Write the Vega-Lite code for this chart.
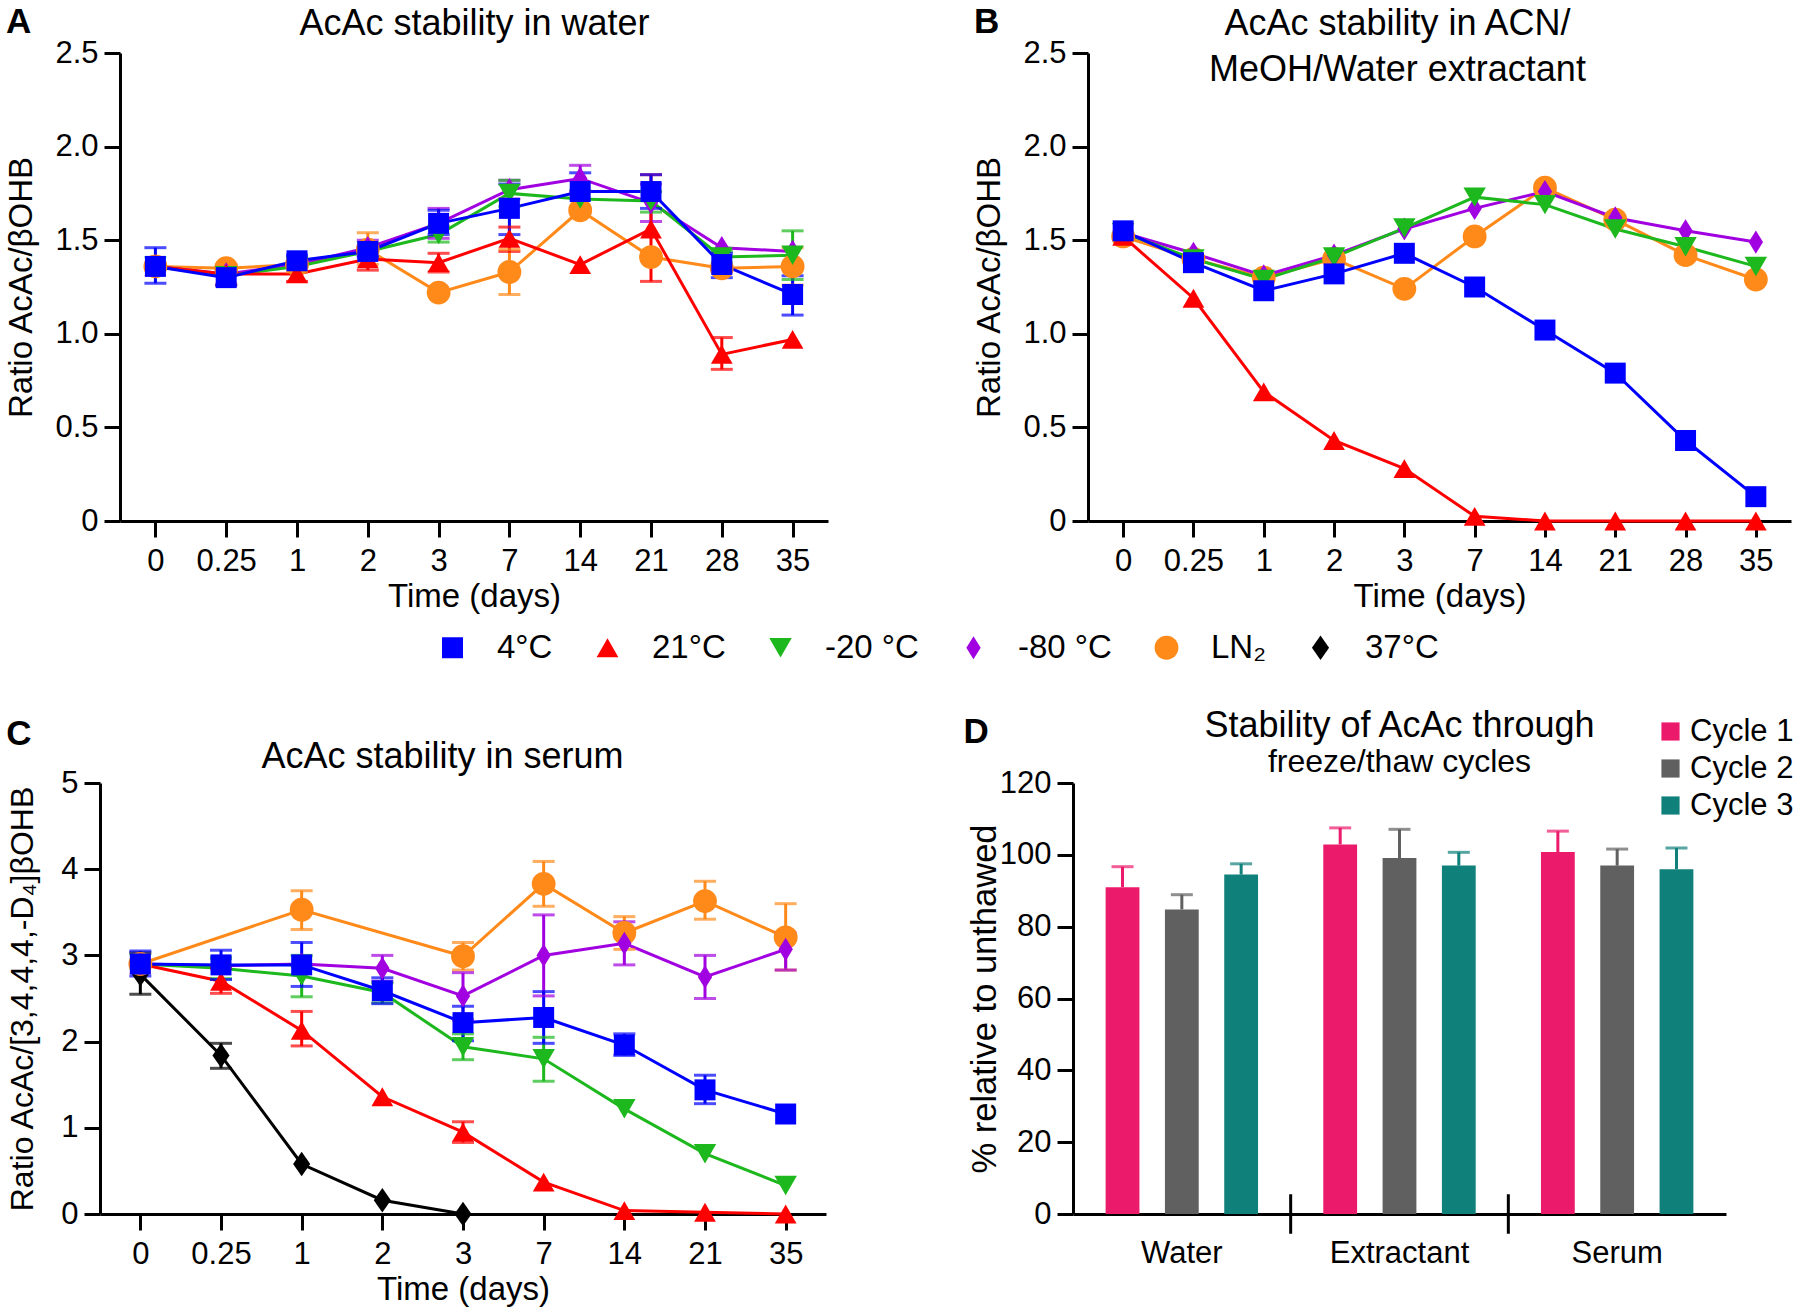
{
"$schema": "https://vega.github.io/schema/vega-lite/v6.json",
"padding": 5,
"config": {
  "font": "Liberation Sans",
  "view": {"stroke": null},
  "axis": {"domainColor": "black", "domainWidth": 3, "tickColor": "black", "tickWidth": 3, "tickSize": 16, "labelFontSize": 31, "labelColor": "black", "titleFontSize": 33, "titleFontWeight": "normal", "titleColor": "black", "grid": false, "labelPadding": 6, "titlePadding": 8, "labelAngle": 0},
  "axisX": {"labelPadding": 9},
  "title": {"fontSize": 36, "fontWeight": "normal", "color": "black", "frame": "group", "anchor": "middle"},
  "legend": {"labelColor": "black", "labelFont": "Liberation Sans"}
},
"datasets": {
  "A": [
    {"t":"0","s":"LN₂","v":1.36},{"t":"0.25","s":"LN₂","v":1.35},{"t":"1","s":"LN₂","v":1.37,"lo":1.33,"hi":1.41},{"t":"2","s":"LN₂","v":1.45,"lo":1.37,"hi":1.54},{"t":"3","s":"LN₂","v":1.22},{"t":"7","s":"LN₂","v":1.33,"lo":1.21,"hi":1.45},{"t":"14","s":"LN₂","v":1.66},{"t":"21","s":"LN₂","v":1.41},{"t":"28","s":"LN₂","v":1.35},{"t":"35","s":"LN₂","v":1.36,"lo":1.26,"hi":1.46},
    {"t":"0","s":"-80 °C","v":1.36},{"t":"0.25","s":"-80 °C","v":1.32},{"t":"1","s":"-80 °C","v":1.37},{"t":"2","s":"-80 °C","v":1.46,"lo":1.42,"hi":1.5},{"t":"3","s":"-80 °C","v":1.59,"lo":1.51,"hi":1.67},{"t":"7","s":"-80 °C","v":1.77,"lo":1.72,"hi":1.82},{"t":"14","s":"-80 °C","v":1.83,"lo":1.76,"hi":1.9},{"t":"21","s":"-80 °C","v":1.7,"lo":1.6,"hi":1.8},{"t":"28","s":"-80 °C","v":1.46},{"t":"35","s":"-80 °C","v":1.44},
    {"t":"0","s":"-20 °C","v":1.36},{"t":"0.25","s":"-20 °C","v":1.31},{"t":"1","s":"-20 °C","v":1.36},{"t":"2","s":"-20 °C","v":1.44},{"t":"3","s":"-20 °C","v":1.53,"lo":1.49,"hi":1.57},{"t":"7","s":"-20 °C","v":1.75,"lo":1.68,"hi":1.82},{"t":"14","s":"-20 °C","v":1.72},{"t":"21","s":"-20 °C","v":1.71,"lo":1.65,"hi":1.76},{"t":"28","s":"-20 °C","v":1.41,"lo":1.38,"hi":1.44},{"t":"35","s":"-20 °C","v":1.42,"lo":1.29,"hi":1.55},
    {"t":"0","s":"21°C","v":1.36},{"t":"0.25","s":"21°C","v":1.32,"lo":1.26,"hi":1.37},{"t":"1","s":"21°C","v":1.32,"lo":1.28,"hi":1.36},{"t":"2","s":"21°C","v":1.4,"lo":1.34,"hi":1.46},{"t":"3","s":"21°C","v":1.38,"lo":1.33,"hi":1.43},{"t":"7","s":"21°C","v":1.51,"lo":1.44,"hi":1.57},{"t":"14","s":"21°C","v":1.37},{"t":"21","s":"21°C","v":1.56,"lo":1.28,"hi":1.85},{"t":"28","s":"21°C","v":0.89,"lo":0.81,"hi":0.98},{"t":"35","s":"21°C","v":0.97},
    {"t":"0","s":"4°C","v":1.36,"lo":1.27,"hi":1.46},{"t":"0.25","s":"4°C","v":1.3,"lo":1.26,"hi":1.36},{"t":"1","s":"4°C","v":1.39,"lo":1.36,"hi":1.42},{"t":"2","s":"4°C","v":1.44,"lo":1.41,"hi":1.47},{"t":"3","s":"4°C","v":1.59,"lo":1.53,"hi":1.66},{"t":"7","s":"4°C","v":1.67,"lo":1.53,"hi":1.8},{"t":"14","s":"4°C","v":1.76,"lo":1.67,"hi":1.86},{"t":"21","s":"4°C","v":1.76,"lo":1.67,"hi":1.85},{"t":"28","s":"4°C","v":1.37,"lo":1.3,"hi":1.43},{"t":"35","s":"4°C","v":1.21,"lo":1.1,"hi":1.31}
  ],
  "B": [
    {"t":"0","s":"LN₂","v":1.52},{"t":"0.25","s":"LN₂","v":1.4},{"t":"1","s":"LN₂","v":1.3},{"t":"2","s":"LN₂","v":1.4},{"t":"3","s":"LN₂","v":1.24},{"t":"7","s":"LN₂","v":1.52},{"t":"14","s":"LN₂","v":1.78},{"t":"21","s":"LN₂","v":1.61},{"t":"28","s":"LN₂","v":1.42},{"t":"35","s":"LN₂","v":1.29},
    {"t":"0","s":"-80 °C","v":1.54},{"t":"0.25","s":"-80 °C","v":1.43},{"t":"1","s":"-80 °C","v":1.31},{"t":"2","s":"-80 °C","v":1.42},{"t":"3","s":"-80 °C","v":1.56},{"t":"7","s":"-80 °C","v":1.67},{"t":"14","s":"-80 °C","v":1.76},{"t":"21","s":"-80 °C","v":1.62},{"t":"28","s":"-80 °C","v":1.55},{"t":"35","s":"-80 °C","v":1.49},
    {"t":"0","s":"-20 °C","v":1.54},{"t":"0.25","s":"-20 °C","v":1.4},{"t":"1","s":"-20 °C","v":1.29},{"t":"2","s":"-20 °C","v":1.41},{"t":"3","s":"-20 °C","v":1.565},{"t":"7","s":"-20 °C","v":1.73},{"t":"14","s":"-20 °C","v":1.69},{"t":"21","s":"-20 °C","v":1.56},{"t":"28","s":"-20 °C","v":1.465},{"t":"35","s":"-20 °C","v":1.36},
    {"t":"0","s":"21°C","v":1.52},{"t":"0.25","s":"21°C","v":1.19},{"t":"1","s":"21°C","v":0.69},{"t":"2","s":"21°C","v":0.43},{"t":"3","s":"21°C","v":0.28},{"t":"7","s":"21°C","v":0.025},{"t":"14","s":"21°C","v":0},{"t":"21","s":"21°C","v":0},{"t":"28","s":"21°C","v":0},{"t":"35","s":"21°C","v":0},
    {"t":"0","s":"4°C","v":1.55},{"t":"0.25","s":"4°C","v":1.38},{"t":"1","s":"4°C","v":1.23},{"t":"2","s":"4°C","v":1.32},{"t":"3","s":"4°C","v":1.43},{"t":"7","s":"4°C","v":1.25},{"t":"14","s":"4°C","v":1.02},{"t":"21","s":"4°C","v":0.79},{"t":"28","s":"4°C","v":0.43},{"t":"35","s":"4°C","v":0.13}
  ],
  "C": [
    {"t":"0","s":"37°C","v":2.78,"lo":2.55,"hi":3.03},{"t":"0.25","s":"37°C","v":1.84,"lo":1.69,"hi":1.98},{"t":"1","s":"37°C","v":0.58},{"t":"2","s":"37°C","v":0.16},{"t":"3","s":"37°C","v":0},
    {"t":"0","s":"LN₂","v":2.9},{"t":"1","s":"LN₂","v":3.53,"lo":3.3,"hi":3.75},{"t":"3","s":"LN₂","v":2.99,"lo":2.83,"hi":3.15},{"t":"7","s":"LN₂","v":3.83,"lo":3.57,"hi":4.09},{"t":"14","s":"LN₂","v":3.26,"lo":3.07,"hi":3.45},{"t":"21","s":"LN₂","v":3.63,"lo":3.42,"hi":3.86},{"t":"35","s":"LN₂","v":3.21,"lo":2.83,"hi":3.6},
    {"t":"0","s":"-80 °C","v":2.9},{"t":"0.25","s":"-80 °C","v":2.88},{"t":"1","s":"-80 °C","v":2.9},{"t":"2","s":"-80 °C","v":2.85,"lo":2.7,"hi":3.0},{"t":"3","s":"-80 °C","v":2.53,"lo":2.25,"hi":2.8},{"t":"7","s":"-80 °C","v":3.0,"lo":2.53,"hi":3.47},{"t":"14","s":"-80 °C","v":3.14,"lo":2.89,"hi":3.39},{"t":"21","s":"-80 °C","v":2.75,"lo":2.5,"hi":3.0},{"t":"35","s":"-80 °C","v":3.07,"lo":2.83,"hi":3.26},
    {"t":"0","s":"-20 °C","v":2.9},{"t":"0.25","s":"-20 °C","v":2.85,"lo":2.73,"hi":2.98},{"t":"1","s":"-20 °C","v":2.76,"lo":2.52,"hi":3.0},{"t":"2","s":"-20 °C","v":2.57,"lo":2.45,"hi":2.68},{"t":"3","s":"-20 °C","v":1.94,"lo":1.79,"hi":2.09},{"t":"7","s":"-20 °C","v":1.8,"lo":1.54,"hi":2.05},{"t":"14","s":"-20 °C","v":1.22},{"t":"21","s":"-20 °C","v":0.7},{"t":"35","s":"-20 °C","v":0.33},
    {"t":"0","s":"21°C","v":2.9},{"t":"0.25","s":"21°C","v":2.7,"lo":2.56,"hi":2.85},{"t":"1","s":"21°C","v":2.13,"lo":1.95,"hi":2.35},{"t":"2","s":"21°C","v":1.36},{"t":"3","s":"21°C","v":0.95,"lo":0.83,"hi":1.07},{"t":"7","s":"21°C","v":0.37},{"t":"14","s":"21°C","v":0.04},{"t":"21","s":"21°C","v":0.02},{"t":"35","s":"21°C","v":0},
    {"t":"0","s":"4°C","v":2.9,"lo":2.76,"hi":3.05},{"t":"0.25","s":"4°C","v":2.89,"lo":2.72,"hi":3.06},{"t":"1","s":"4°C","v":2.89,"lo":2.64,"hi":3.15},{"t":"2","s":"4°C","v":2.59,"lo":2.44,"hi":2.74},{"t":"3","s":"4°C","v":2.22,"lo":2.01,"hi":2.41},{"t":"7","s":"4°C","v":2.28,"lo":1.98,"hi":2.58},{"t":"14","s":"4°C","v":1.96,"lo":1.84,"hi":2.09},{"t":"21","s":"4°C","v":1.44,"lo":1.28,"hi":1.61},{"t":"35","s":"4°C","v":1.16}
  ],
  "D": [
    {"g":"Water","c":"Cycle 1","v":91.0,"hi":96.7},{"g":"Water","c":"Cycle 2","v":84.8,"hi":88.9},{"g":"Water","c":"Cycle 3","v":94.5,"hi":97.5},
    {"g":"Extractant","c":"Cycle 1","v":102.9,"hi":107.5},{"g":"Extractant","c":"Cycle 2","v":99.1,"hi":107.1},{"g":"Extractant","c":"Cycle 3","v":97.0,"hi":100.7},
    {"g":"Serum","c":"Cycle 1","v":100.8,"hi":106.6},{"g":"Serum","c":"Cycle 2","v":97.0,"hi":101.6},{"g":"Serum","c":"Cycle 3","v":96.0,"hi":101.9}
  ]
},
"spacing": 42,
"resolve": {"scale": {"color": "independent", "shape": "independent", "size": "independent", "fill": "independent", "stroke": "independent"}},
"vconcat": [
  {
    "bounds": "flush",
    "spacing": 260,
    "hconcat": [
      {
        "width": 728, "height": 468,
        "title": {"text": "A", "anchor": "start", "frame": "bounds", "fontSize": 35, "fontWeight": "bold", "offset": 0, "dy": 35},
        "data": {"name": "A"},
        "resolve": {"axis": {"x": "independent"}},
        "layer": [
          {"mark": {"type": "line", "strokeWidth": 3}, "encoding": {
            "x": {"field": "t", "type": "ordinal", "scale": {"type": "point", "padding": 0.5, "range": [20, 728], "domain": ["0","0.25","1","2","3","7","14","21","28","35"]}, "axis": {"title": "Time (days)", "titlePadding": 4}},
            "y": {"field": "v", "type": "quantitative", "scale": {"domain": [0, 2.5], "nice": false}, "axis": {"title": "Ratio AcAc/βOHB", "offset": -20, "titlePadding": 16, "values": [0, 0.5, 1, 1.5, 2, 2.5], "labelExpr": "datum.value == 0 ? '0' : format(datum.value, '.1f')"}},
            "color": {"field": "s", "type": "nominal", "scale": {"domain": ["4°C","21°C","-20 °C","-80 °C","LN₂","37°C"], "range": ["#0000FF","#FF0000","#1DB81D","#A100E0","#FF8A1A","#000000"]},
              "legend": {"orient": "none", "legendX": 336, "legendY": 578, "direction": "horizontal", "title": null, "labelFontSize": 33, "symbolSize": 420, "symbolOpacity": 1, "labelOffset": 28, "columnPadding": 38, "symbolStrokeWidth": 0}}}},
          {"transform": [{"filter": "isValid(datum.lo)"}], "mark": {"type": "rule", "strokeWidth": 3}, "encoding": {
            "x": {"field": "t", "type": "ordinal", "axis": null},
            "y": {"field": "lo", "type": "quantitative", "title": "Ratio AcAc/βOHB"}, "y2": {"field": "hi"},
            "color": {"field": "s", "type": "nominal", "legend": {"orient": "none", "legendX": 336, "legendY": 578, "direction": "horizontal", "title": null, "labelFontSize": 33, "symbolSize": 420, "symbolOpacity": 1, "labelOffset": 28, "columnPadding": 38, "symbolStrokeWidth": 0}}}},
          {"transform": [{"filter": "isValid(datum.lo)"}], "mark": {"type": "tick", "size": 22, "thickness": 3}, "encoding": {
            "x": {"field": "t", "type": "ordinal", "axis": null},
            "y": {"field": "lo", "type": "quantitative", "title": "Ratio AcAc/βOHB"},
            "color": {"field": "s", "type": "nominal", "legend": {"orient": "none", "legendX": 336, "legendY": 578, "direction": "horizontal", "title": null, "labelFontSize": 33, "symbolSize": 420, "symbolOpacity": 1, "labelOffset": 28, "columnPadding": 38, "symbolStrokeWidth": 0}}}},
          {"transform": [{"filter": "isValid(datum.hi)"}], "mark": {"type": "tick", "size": 22, "thickness": 3}, "encoding": {
            "x": {"field": "t", "type": "ordinal", "axis": null},
            "y": {"field": "hi", "type": "quantitative", "title": "Ratio AcAc/βOHB"},
            "color": {"field": "s", "type": "nominal", "legend": {"orient": "none", "legendX": 336, "legendY": 578, "direction": "horizontal", "title": null, "labelFontSize": 33, "symbolSize": 420, "symbolOpacity": 1, "labelOffset": 28, "columnPadding": 38, "symbolStrokeWidth": 0}}}},
          {"mark": {"type": "point", "filled": true, "opacity": 1}, "encoding": {
            "x": {"field": "t", "type": "ordinal", "axis": {"orient": "top", "domain": false, "ticks": false, "labels": false, "title": "AcAc stability in water", "titleFontSize": 36, "titleY": -19, "titleBaseline": "alphabetic"}},
            "y": {"field": "v", "type": "quantitative", "title": "Ratio AcAc/βOHB"},
            "color": {"field": "s", "type": "nominal", "legend": {"orient": "none", "legendX": 336, "legendY": 578, "direction": "horizontal", "title": null, "labelFontSize": 33, "symbolSize": 420, "symbolOpacity": 1, "labelOffset": 28, "columnPadding": 38, "symbolStrokeWidth": 0}},
            "shape": {"field": "s", "type": "nominal", "scale": {"domain": ["4°C","21°C","-20 °C","-80 °C","LN₂","37°C"], "range": ["square","triangle-up","triangle-down","M0,-1L0.62,0L0,1L-0.62,0Z","circle","M0,-1L0.7,0L0,1L-0.7,0Z"]},
              "legend": {"orient": "none", "legendX": 336, "legendY": 578, "direction": "horizontal", "title": null, "labelFontSize": 33, "symbolSize": 420, "symbolOpacity": 1, "labelOffset": 28, "columnPadding": 38, "symbolStrokeWidth": 0}},
            "size": {"field": "s", "type": "nominal", "scale": {"domain": ["4°C","21°C","-20 °C","-80 °C","LN₂","37°C"], "range": [440, 600, 600, 460, 380, 220]}, "legend": null}}}
        ]
      },
      {
        "width": 703, "height": 468,
        "title": {"text": "B", "anchor": "start", "frame": "bounds", "fontSize": 35, "fontWeight": "bold", "offset": 0, "dy": 35},
        "data": {"name": "B"},
        "resolve": {"axis": {"x": "independent"}},
        "layer": [
          {"mark": {"type": "line", "strokeWidth": 3}, "encoding": {
            "x": {"field": "t", "type": "ordinal", "scale": {"type": "point", "padding": 0.5, "domain": ["0","0.25","1","2","3","7","14","21","28","35"]}, "axis": {"title": "Time (days)", "titlePadding": 4}},
            "y": {"field": "v", "type": "quantitative", "scale": {"domain": [0, 2.5], "nice": false}, "axis": {"title": "Ratio AcAc/βOHB", "titlePadding": 16, "values": [0, 0.5, 1, 1.5, 2, 2.5], "labelExpr": "datum.value == 0 ? '0' : format(datum.value, '.1f')"}},
            "color": {"field": "s", "type": "nominal", "scale": {"domain": ["4°C","21°C","-20 °C","-80 °C","LN₂","37°C"], "range": ["#0000FF","#FF0000","#1DB81D","#A100E0","#FF8A1A","#000000"]},
              "legend": {"orient": "none", "legendX": 336, "legendY": 578, "direction": "horizontal", "title": null, "labelFontSize": 33, "symbolSize": 420, "symbolOpacity": 1, "labelOffset": 28, "columnPadding": 38, "symbolStrokeWidth": 0}}}},
          {"mark": {"type": "point", "filled": true, "opacity": 1}, "encoding": {
            "x": {"field": "t", "type": "ordinal", "axis": {"orient": "top", "domain": false, "ticks": false, "labels": false, "title": ["AcAc stability in ACN/", "MeOH/Water extractant"], "titleFontSize": 36, "titleLineHeight": 46, "titleX": 309, "titleY": -19, "titleBaseline": "alphabetic", "titleAlign": "center"}},
            "y": {"field": "v", "type": "quantitative", "title": "Ratio AcAc/βOHB"},
            "color": {"field": "s", "type": "nominal", "legend": {"orient": "none", "legendX": 336, "legendY": 578, "direction": "horizontal", "title": null, "labelFontSize": 33, "symbolSize": 420, "symbolOpacity": 1, "labelOffset": 28, "columnPadding": 38, "symbolStrokeWidth": 0}},
            "shape": {"field": "s", "type": "nominal", "scale": {"domain": ["4°C","21°C","-20 °C","-80 °C","LN₂","37°C"], "range": ["square","triangle-up","triangle-down","M0,-1L0.62,0L0,1L-0.62,0Z","circle","M0,-1L0.7,0L0,1L-0.7,0Z"]},
              "legend": {"orient": "none", "legendX": 336, "legendY": 578, "direction": "horizontal", "title": null, "labelFontSize": 33, "symbolSize": 420, "symbolOpacity": 1, "labelOffset": 28, "columnPadding": 38, "symbolStrokeWidth": 0}},
            "size": {"field": "s", "type": "nominal", "scale": {"domain": ["4°C","21°C","-20 °C","-80 °C","LN₂","37°C"], "range": [440, 600, 600, 460, 380, 220]}, "legend": null}}}
        ]
      }
    ]
  },
  {
    "bounds": "flush",
    "spacing": 247,
    "hconcat": [
      {
        "width": 726, "height": 431,
        "title": {"text": "C", "anchor": "start", "frame": "bounds", "fontSize": 35, "fontWeight": "bold", "offset": 0, "dy": 14},
        "data": {"name": "C"},
        "resolve": {"axis": {"x": "independent"}},
        "layer": [
          {"mark": {"type": "line", "strokeWidth": 3}, "encoding": {
            "x": {"field": "t", "type": "ordinal", "scale": {"type": "point", "padding": 0.5, "domain": ["0","0.25","1","2","3","7","14","21","35"]}, "axis": {"title": "Time (days)", "titlePadding": 4}},
            "y": {"field": "v", "type": "quantitative", "scale": {"domain": [0, 5], "nice": false}, "axis": {"title": "Ratio AcAc/[3,4,4,4,-D₄]βOHB", "titleFontSize": 32, "titlePadding": 21.5, "format": "d", "values": [0, 1, 2, 3, 4, 5]}},
            "stroke": {"field": "s", "type": "nominal", "scale": {"domain": ["4°C","21°C","-20 °C","-80 °C","LN₂","37°C"], "range": ["#0000FF","#FF0000","#1DB81D","#A100E0","#FF8A1A","#000000"]}, "legend": null}}},
          {"transform": [{"filter": "isValid(datum.lo)"}], "mark": {"type": "rule", "strokeWidth": 3}, "encoding": {
            "x": {"field": "t", "type": "ordinal", "axis": null},
            "y": {"field": "lo", "type": "quantitative", "title": "Ratio AcAc/[3,4,4,4,-D₄]βOHB"}, "y2": {"field": "hi"},
            "stroke": {"field": "s", "type": "nominal", "legend": null}}},
          {"transform": [{"filter": "isValid(datum.lo)"}], "mark": {"type": "tick", "size": 22, "thickness": 3}, "encoding": {
            "x": {"field": "t", "type": "ordinal", "axis": null},
            "y": {"field": "lo", "type": "quantitative", "title": "Ratio AcAc/[3,4,4,4,-D₄]βOHB"},
            "fill": {"field": "s", "type": "nominal", "scale": {"domain": ["4°C","21°C","-20 °C","-80 °C","LN₂","37°C"], "range": ["#0000FF","#FF0000","#1DB81D","#A100E0","#FF8A1A","#000000"]}, "legend": null}}},
          {"transform": [{"filter": "isValid(datum.hi)"}], "mark": {"type": "tick", "size": 22, "thickness": 3}, "encoding": {
            "x": {"field": "t", "type": "ordinal", "axis": null},
            "y": {"field": "hi", "type": "quantitative", "title": "Ratio AcAc/[3,4,4,4,-D₄]βOHB"},
            "fill": {"field": "s", "type": "nominal", "legend": null}}},
          {"mark": {"type": "point", "filled": true, "opacity": 1}, "encoding": {
            "x": {"field": "t", "type": "ordinal", "axis": {"orient": "top", "domain": false, "ticks": false, "labels": false, "title": "AcAc stability in serum", "titleFontSize": 36, "titleX": 342, "titleY": -16, "titleBaseline": "alphabetic", "titleAlign": "center"}},
            "y": {"field": "v", "type": "quantitative", "title": "Ratio AcAc/[3,4,4,4,-D₄]βOHB"},
            "fill": {"field": "s", "type": "nominal", "legend": null},
            "shape": {"field": "s", "type": "nominal", "scale": {"domain": ["4°C","21°C","-20 °C","-80 °C","LN₂","37°C"], "range": ["square","triangle-up","triangle-down","M0,-1L0.62,0L0,1L-0.62,0Z","circle","M0,-1L0.7,0L0,1L-0.7,0Z"]}, "legend": null},
            "size": {"field": "s", "type": "nominal", "scale": {"domain": ["4°C","21°C","-20 °C","-80 °C","LN₂","37°C"], "range": [440, 600, 600, 460, 380, 220]}, "legend": null}}}
        ]
      },
      {
        "width": 653, "height": 431,
        "title": {"text": "Stability of AcAc through", "subtitle": "freeze/thaw cycles", "subtitleFontSize": 32, "subtitleColor": "black", "subtitlePadding": 2, "offset": 0, "dy": 64, "frame": "group", "anchor": "middle"},
        "resolve": {"axis": {"x": "independent"}},
        "layer": [
          {"data": {"name": "D"}, "mark": {"type": "bar"}, "encoding": {
            "x": {"field": "g", "type": "nominal", "scale": {"domain": ["Water","Extractant","Serum"], "paddingInner": 0, "paddingOuter": 0}, "axis": {"title": null, "ticks": false, "labelPadding": 24}},
            "xOffset": {"field": "c", "type": "nominal", "scale": {"domain": ["Cycle 1","Cycle 2","Cycle 3"], "paddingInner": 0.43, "paddingOuter": 0.55}},
            "y": {"field": "v", "type": "quantitative", "scale": {"domain": [0, 120], "nice": false}, "axis": {"title": "% relative to unthawed", "titleFontSize": 34.5, "titlePadding": -3, "values": [0, 20, 40, 60, 80, 100, 120]}},
            "color": {"field": "c", "type": "nominal", "scale": {"domain": ["Cycle 1","Cycle 2","Cycle 3"], "range": ["#EC1A6B","#5F605F","#10807B"]},
              "legend": {"orient": "none", "legendX": 1555, "legendY": -67, "title": null, "symbolType": "square", "symbolSize": 330, "symbolOpacity": 1, "labelFontSize": 31, "rowPadding": 5, "labelOffset": 4, "symbolStrokeWidth": 0}}}},
          {"data": {"name": "D"}, "mark": {"type": "rule", "strokeWidth": 3}, "encoding": {
            "x": {"field": "g", "type": "nominal", "axis": {"orient": "top", "domain": false, "ticks": false, "labels": false, "title": "D", "titleFontSize": 35, "titleFontWeight": "bold", "titleX": -110, "titleY": -40.5, "titleAlign": "left", "titleBaseline": "alphabetic", "titleAngle": 0}},
            "xOffset": {"field": "c", "type": "nominal"},
            "y": {"field": "v", "type": "quantitative", "title": "% relative to unthawed"}, "y2": {"field": "hi"},
            "color": {"field": "c", "type": "nominal", "legend": {"orient": "none", "legendX": 1555, "legendY": -67, "title": null, "symbolType": "square", "symbolSize": 330, "symbolOpacity": 1, "labelFontSize": 31, "rowPadding": 5, "labelOffset": 4, "symbolStrokeWidth": 0}}}},
          {"data": {"name": "D"}, "mark": {"type": "tick", "size": 22, "thickness": 3}, "encoding": {
            "x": {"field": "g", "type": "nominal", "axis": null},
            "xOffset": {"field": "c", "type": "nominal"},
            "y": {"field": "hi", "type": "quantitative", "title": "% relative to unthawed"},
            "color": {"field": "c", "type": "nominal", "legend": {"orient": "none", "legendX": 1555, "legendY": -67, "title": null, "symbolType": "square", "symbolSize": 330, "symbolOpacity": 1, "labelFontSize": 31, "rowPadding": 5, "labelOffset": 4, "symbolStrokeWidth": 0}}}},
          {"data": {"values": [{"g": "Extractant"}, {"g": "Serum"}]}, "mark": {"type": "rule", "strokeWidth": 3, "color": "black"}, "encoding": {
            "x": {"field": "g", "type": "nominal", "bandPosition": 0, "axis": null},
            "y": {"datum": -5.5}, "y2": {"datum": 5.5}}}
        ]
      }
    ]
  }
]
}
